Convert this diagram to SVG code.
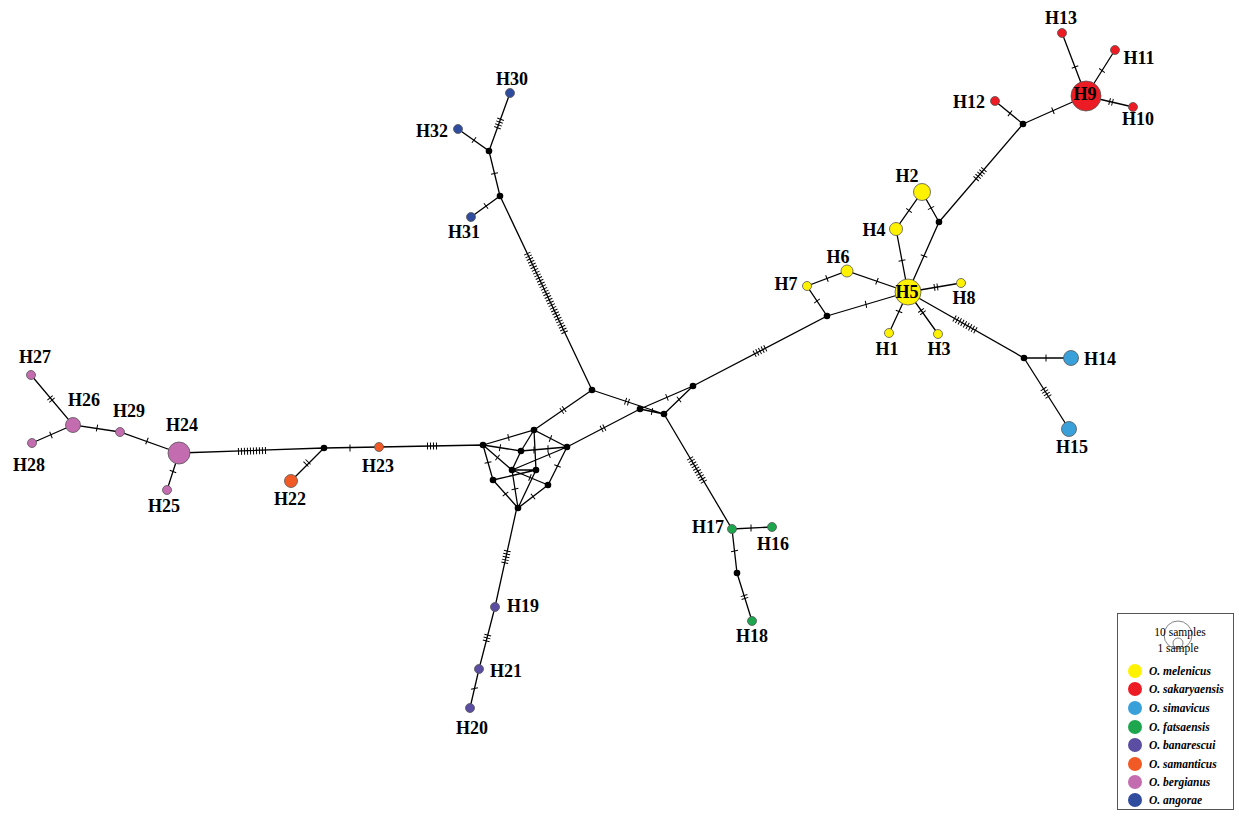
<svg xmlns="http://www.w3.org/2000/svg" width="1239" height="816" viewBox="0 0 1239 816">
<style>
.e{stroke:#000;stroke-width:1.3;fill:none}
.t{stroke:#000;stroke-width:7;stroke-dasharray:1 2;fill:none}
.m{fill:#000}
.h{stroke:#555;stroke-width:0.8}
.lb{font-family:"Liberation Serif",serif;font-weight:bold;font-size:18px;text-anchor:middle;fill:#000}
.lg{font-family:"Liberation Serif",serif;font-weight:bold;font-style:italic;font-size:11.5px;fill:#000}
.ls{font-family:"Liberation Serif",serif;font-size:11.5px;fill:#000;text-anchor:middle}
.y{fill:#FFF200}.r{fill:#ED1C24}.sb{fill:#3AA0DA}.g{fill:#1EA64F}.p{fill:#5B4EA2}.o{fill:#F15A25}.pk{fill:#C46CB0}.b{fill:#2F4C9F}
</style>
<rect width="1239" height="816" fill="#fff"/>
<g id="connectors">
<path class="e" d="M179,453 L324,448 L379,447 L483,445 M324,448 L291,481 M179,453 L120,432 L73,425 L31,375 M73,425 L32,443 M179,453 L167,490
M517,507 L495,607 L479,669 L470,708
M664,414 L732,529 L772,527 M732,529 L737,573 L752,621
M592,390 L500,196 L471,217 M500,196 L489,151 L458,129 M489,151 L510,93
M592,390 L534,430 M592,390 L664,414 M567,447 L640,409 L693,386 M664,414 L693,386 M640,409 L664,414
M693,386 L827,316 L807,286 L847,271 L908,292 M827,316 L908,292 M908,292 L896,229 L922,192 L939,222 L908,292 M908,292 L961,283 M908,292 L889,333 M908,292 L938,334 M908,292 L1024,358 L1071,358 M1024,358 L1069,429
M939,222 L1023,124 L995,101 M1023,124 L1086,96 L1062,33 M1086,96 L1115,50 M1086,96 L1133,107
M483,445 L534,430 L567,447 M483,445 L521,451 L567,447 M483,445 L493,480 M483,445 L512,470 M534,430 L521,451 M534,430 L536,470 M567,447 L512,470 M567,447 L548,485 M521,451 L512,470 M493,480 L536,470 M512,470 L548,485 M512,470 L536,470 M493,480 L518,508 L548,485 M512,470 L518,508 M536,470 L518,508"/>
<path class="t" d="M238,451.5 L266,450.5 M349.5,448 L350.5,448 M308.4,461.6 L305.6,464.4 M427,446.1 L437,445.9 M146.5,440.8 L147.5,441.2 M96.5,427.9 L97.5,428.1 M49.7,397.5 L52.3,400.5 M50.5,435.2 L51.5,434.8 M172.8,472 L173.2,471
M507.4,550.6 L504.6,563.4 M487.9,634.6 L486.1,641.4 M474.4,688 L474.6,689
M689.9,457.9 L704.1,482.1 M750.5,528 L751.5,528 M734.4,550.5 L734.6,551.5 M743.9,595.1 L745.1,598.9
M527.1,253.2 L564.9,332.8 M485.6,206.3 L486.4,205.7 M494.6,174 L494.4,173 M474.4,140.3 L473.6,139.7 M497.3,128.2 L500.7,118.8
M564.6,408.9 L561.4,411.1 M625.1,401.1 L628.9,402.3 M601.2,429.2 L604.8,427.4 M666.5,397.5 L667.5,397.1 M678.6,399.8 L679.4,399.2 M651.5,411.4 L652.5,411.6
M754.2,354 L765.8,348 M816.7,300.6 L817.3,301.4 M826.5,278.7 L827.5,278.3 M876.5,281.1 L877.5,281.5 M865.5,304.5 L866.5,304.3 M902.1,261 L901.9,260 M908.7,210.9 L909.3,210.1 M930.8,207.6 L931.2,208.4 M924.2,255.5 L923.8,256.5 M934,287.5 L938,286.9 M899.2,311 L898.8,312 M920.8,310 L923.2,313.2 M954.1,318.2 L975.9,330.6 M1045.5,358 L1046.5,358 M1043.3,388.5 L1048.7,396.9
M975.8,179.1 L984.2,169.3 M1010.4,113.6 L1009.6,113 M1052.5,110.9 L1053.5,110.5 M1075.2,67.5 L1074.8,66.5 M1101.7,71 L1102.3,70.2 M1109.1,101.4 L1112.9,102.4
M508,437.6 L509,437.4 M550,438.3 L551,438.7 M499.5,447.6 L500.5,447.8 M533.5,450 L534.5,450 M547.5,448.8 L548.5,448.8 M487.9,462 L488.1,463 M497.1,457.2 L497.9,457.8 M549.5,454.5 L548.5,454.9 M557.7,465.5 L557.3,466.5 M505.2,493.6 L505.8,494.4 M533.4,496.2 L532.6,496.8 M514.9,488.5 L515.1,489.5 M529.5,477.3 L530.5,477.7"/>
</g>
<g id="medians">
<circle class="m" cx="592" cy="390" r="3.3"/><circle class="m" cx="640" cy="409" r="3.3"/><circle class="m" cx="664" cy="414" r="3.3"/><circle class="m" cx="693" cy="386" r="3.3"/>
<circle class="m" cx="324" cy="448" r="3.3"/><circle class="m" cx="500" cy="196" r="3.3"/><circle class="m" cx="489" cy="151" r="3.3"/>
<circle class="m" cx="827" cy="316" r="3.3"/><circle class="m" cx="939" cy="222" r="3.3"/><circle class="m" cx="1023" cy="124" r="3.3"/><circle class="m" cx="1024" cy="358" r="3.3"/><circle class="m" cx="737" cy="573" r="3.3"/>
<circle class="m" cx="483" cy="445" r="3.3"/><circle class="m" cx="534" cy="430" r="3.3"/><circle class="m" cx="567" cy="447" r="3.3"/><circle class="m" cx="521" cy="451" r="3.3"/><circle class="m" cx="512" cy="470" r="3.3"/><circle class="m" cx="536" cy="470" r="3.3"/><circle class="m" cx="493" cy="480" r="3.3"/><circle class="m" cx="548" cy="485" r="3.3"/><circle class="m" cx="518" cy="508" r="3.3"/>
</g>
<g id="H1"><circle class="h y" cx="889" cy="333" r="4.5"/><text class="lb" x="887" y="355">H1</text></g>
<g id="H2"><circle class="h y" cx="922" cy="192" r="8.5"/><text class="lb" x="907" y="182">H2</text></g>
<g id="H3"><circle class="h y" cx="938" cy="334" r="4.5"/><text class="lb" x="939" y="355">H3</text></g>
<g id="H4"><circle class="h y" cx="896" cy="229" r="6.5"/><text class="lb" x="874" y="236">H4</text></g>
<g id="H5"><circle class="h y" cx="908" cy="292" r="13"/><text class="lb" x="907" y="298">H5</text></g>
<g id="H6"><circle class="h y" cx="847" cy="271" r="6"/><text class="lb" x="838" y="263">H6</text></g>
<g id="H7"><circle class="h y" cx="807" cy="286" r="4.5"/><text class="lb" x="786" y="290">H7</text></g>
<g id="H8"><circle class="h y" cx="961" cy="283" r="4.5"/><text class="lb" x="964" y="304">H8</text></g>
<g id="H9"><circle class="h r" cx="1086" cy="96" r="15"/><text class="lb" x="1085" y="100">H9</text></g>
<g id="H10"><circle class="h r" cx="1133" cy="107" r="4.5"/><text class="lb" x="1138" y="125">H10</text></g>
<g id="H11"><circle class="h r" cx="1115" cy="50" r="4.5"/><text class="lb" x="1139" y="64">H11</text></g>
<g id="H12"><circle class="h r" cx="995" cy="101" r="4.5"/><text class="lb" x="969" y="108">H12</text></g>
<g id="H13"><circle class="h r" cx="1062" cy="33" r="4.5"/><text class="lb" x="1061" y="24">H13</text></g>
<g id="H14"><circle class="h sb" cx="1071" cy="358" r="7.5"/><text class="lb" x="1100" y="365">H14</text></g>
<g id="H15"><circle class="h sb" cx="1069" cy="429" r="7.5"/><text class="lb" x="1072" y="453">H15</text></g>
<g id="H16"><circle class="h g" cx="772" cy="527" r="4.5"/><text class="lb" x="773" y="550">H16</text></g>
<g id="H17"><circle class="h g" cx="732" cy="529" r="4.5"/><text class="lb" x="708" y="533">H17</text></g>
<g id="H18"><circle class="h g" cx="752" cy="621" r="4.5"/><text class="lb" x="752" y="642">H18</text></g>
<g id="H19"><circle class="h p" cx="495" cy="607" r="4.5"/><text class="lb" x="523" y="612">H19</text></g>
<g id="H20"><circle class="h p" cx="470" cy="708" r="4.5"/><text class="lb" x="472" y="734">H20</text></g>
<g id="H21"><circle class="h p" cx="479" cy="669" r="4.5"/><text class="lb" x="506" y="677">H21</text></g>
<g id="H22"><circle class="h o" cx="291" cy="481" r="6.5"/><text class="lb" x="290" y="505">H22</text></g>
<g id="H23"><circle class="h o" cx="379" cy="447" r="4.5"/><text class="lb" x="378" y="472">H23</text></g>
<g id="H24"><circle class="h pk" cx="179" cy="453" r="11"/><text class="lb" x="182" y="431">H24</text></g>
<g id="H25"><circle class="h pk" cx="167" cy="490" r="4.5"/><text class="lb" x="164" y="512">H25</text></g>
<g id="H26"><circle class="h pk" cx="73" cy="425" r="7.5"/><text class="lb" x="84" y="406">H26</text></g>
<g id="H27"><circle class="h pk" cx="31" cy="375" r="4.5"/><text class="lb" x="35" y="363">H27</text></g>
<g id="H28"><circle class="h pk" cx="32" cy="443" r="4.5"/><text class="lb" x="29" y="471">H28</text></g>
<g id="H29"><circle class="h pk" cx="120" cy="432" r="4.5"/><text class="lb" x="129" y="417">H29</text></g>
<g id="H30"><circle class="h b" cx="510" cy="93" r="4.5"/><text class="lb" x="512" y="85">H30</text></g>
<g id="H31"><circle class="h b" cx="471" cy="217" r="4.5"/><text class="lb" x="464" y="238">H31</text></g>
<g id="H32"><circle class="h b" cx="458" cy="129" r="4.5"/><text class="lb" x="432" y="137">H32</text></g>
<g id="legend">
<rect x="1117.5" y="613.5" width="116" height="196" fill="#fff" stroke="#555" stroke-width="1"/>
<circle cx="1178" cy="635" r="14" fill="none" stroke="#666" stroke-width="0.8"/>
<circle cx="1178" cy="643" r="5" fill="none" stroke="#666" stroke-width="0.8"/>
<text class="ls" x="1180" y="636">10 samples</text>
<text class="ls" x="1178" y="652">1 sample</text>
<circle class="y" cx="1135" cy="671" r="7"/><text class="lg" x="1149" y="675">O. melenicus</text>
<circle class="r" cx="1135" cy="689" r="7"/><text class="lg" x="1149" y="693">O. sakaryaensis</text>
<circle class="sb" cx="1135" cy="708" r="7"/><text class="lg" x="1149" y="712">O. simavicus</text>
<circle class="g" cx="1135" cy="727" r="7"/><text class="lg" x="1149" y="731">O. fatsaensis</text>
<circle class="p" cx="1135" cy="745" r="7"/><text class="lg" x="1149" y="749">O. banarescui</text>
<circle class="o" cx="1135" cy="764" r="7"/><text class="lg" x="1149" y="768">O. samanticus</text>
<circle class="pk" cx="1135" cy="782" r="7"/><text class="lg" x="1149" y="786">O. bergianus</text>
<circle class="b" cx="1135" cy="800" r="7"/><text class="lg" x="1149" y="804">O. angorae</text>
</g>
</svg>
